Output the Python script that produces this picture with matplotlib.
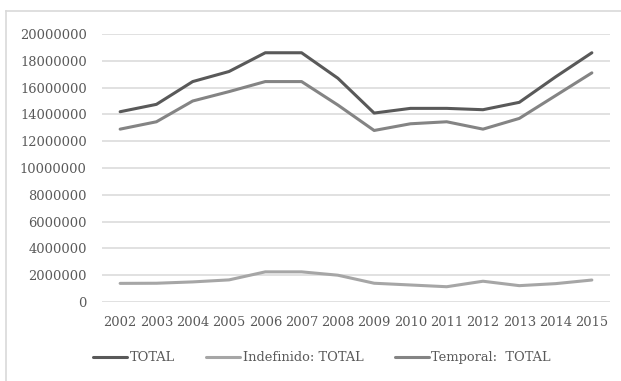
import matplotlib

matplotlib.use("Agg")
import matplotlib.pyplot as plt
from matplotlib.lines import Line2D

years = ["2002", "2003", "2004", "2005", "2006", "2007", "2008",
         "2009", "2010", "2011", "2012", "2013", "2014", "2015"]
total = [14200000, 14750000, 16450000, 17200000, 18600000, 18600000, 16700000,
         14100000, 14450000, 14450000, 14350000, 14900000, 16800000, 18600000]
indefinido = [1390000, 1400000, 1500000, 1650000, 2250000, 2250000, 2000000,
              1400000, 1270000, 1140000, 1550000, 1220000, 1370000, 1640000]
temporal = [12900000, 13450000, 15000000, 15700000, 16450000, 16450000, 14700000,
            12800000, 13300000, 13450000, 12900000, 13700000, 15400000, 17100000]
yticks = list(range(0, 20000001, 2000000))

W, H = 621, 381
fig = plt.figure(figsize=(W / 100, H / 100), dpi=100)
ax = fig.add_axes([102 / W, 1 - 302 / H, 508 / W, 268 / H])

text_color = "#595959"
font = "DejaVu Serif"
fs = 9.4

x = list(range(len(years)))
ax.plot(x, total, color="#595959", lw=2.2, label="TOTAL", solid_capstyle="round")
ax.plot(x, indefinido, color="#a6a6a6", lw=2.2, label="Indefinido: TOTAL", solid_capstyle="round")
ax.plot(x, temporal, color="#848484", lw=2.2, label="Temporal:  TOTAL", solid_capstyle="round")

ax.set_xlim(-0.5, len(years) - 0.5)
ax.set_ylim(0, 20000000)
ax.set_yticks(yticks)
ax.set_yticklabels([str(v) for v in yticks], fontfamily=font, fontsize=fs, color=text_color)
ax.set_xticks(x)
ax.set_xticklabels(years, fontfamily=font, fontsize=fs, color=text_color)
ax.tick_params(axis="y", length=0, pad=11)
ax.tick_params(axis="x", length=0, pad=10)
for s in ax.spines.values():
    s.set_visible(False)
ax.grid(axis="y", color="#d9d9d9", lw=1.1)
ax.set_axisbelow(True)

leg = ax.legend(loc="upper center", bbox_to_anchor=(0.5 - 0.067, -0.14), ncol=3,
                frameon=False, handlelength=2.6, handletextpad=0.2, columnspacing=2.4,
                prop={"family": font, "size": fs})
for t in leg.get_texts():
    t.set_color(text_color)

# outer chart border
bc = "#d9d9d9"
fig.add_artist(Line2D([6 / W, 1], [1 - 11 / H, 1 - 11 / H], color=bc, lw=1.2))
fig.add_artist(Line2D([6 / W, 6 / W], [0, 1 - 11 / H], color=bc, lw=1.2))

fig.savefig("out.png", dpi=100)
